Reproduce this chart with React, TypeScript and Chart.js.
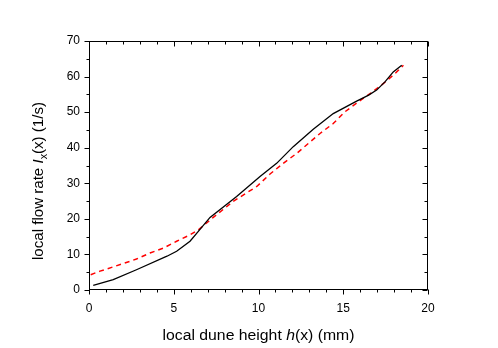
import React, { useEffect, useRef } from 'react';
import { Chart, registerables } from 'chart.js';

Chart.register(...registerables);

// Measured local flow rate (black solid)
const measuredH = [0.25, 1.43, 2.8, 4.6, 5.17, 5.96, 6.45, 7.14, 8.71, 10.09, 11.07, 12.05, 13.23, 14.41, 15.79, 16.5, 16.97, 17.46, 17.95, 18.45];
const measuredFlow = [1.3, 2.9, 5.7, 9.5, 10.9, 13.7, 16.5, 20.4, 26.3, 31.9, 35.6, 40.3, 45.2, 49.6, 53.1, 54.8, 56.2, 58.5, 61.3, 63.2];

// Model local flow rate (red dashed)
const modelH = [0.1, 0.65, 1.43, 2.0, 2.8, 3.6, 4.4, 5.17, 5.96, 6.45, 7.33, 8.5, 9.9, 10.68, 11.46, 12.25, 12.94, 13.63, 14.41, 15.1, 15.89, 16.58, 17.36, 18.05, 18.55];
const modelFlow = [4.3, 5.3, 6.5, 7.4, 8.7, 10.4, 11.8, 13.7, 15.5, 16.9, 20.4, 24.9, 29.1, 32.6, 35.6, 38.4, 41.2, 44.0, 46.8, 50.1, 52.9, 55.2, 58.0, 60.8, 63.2];

const xMin = 0, xMax = 20, xMajor = 5, xMinor = 1;
const yMin = 0, yMax = 70, yMajor = 10, yMinor = 5;

const FONT = '"Liberation Sans", Arial, Helvetica, sans-serif';

type Seg = { text: string; italic?: boolean; sub?: boolean };

const xTitle: Seg[] = [{ text: 'local dune height ' }, { text: 'h', italic: true }, { text: '(x) (mm)' }];
const yTitle: Seg[] = [{ text: 'local flow rate ' }, { text: 'I', italic: true }, { text: 'x', sub: true }, { text: '(x) (1/s)' }];

// draws segments centred on cx, with alphabetic baseline at by, stretched to targetWidth
function drawSegs(ctx: CanvasRenderingContext2D, segs: Seg[], cx: number, by: number, size: number, targetWidth: number) {
  const fontFor = (s: Seg) => `${s.italic ? 'italic ' : ''}${s.sub ? Math.round(size * 0.72) : size}px ${FONT}`;
  let total = 0;
  const widths = segs.map((s) => {
    ctx.font = fontFor(s);
    const w = ctx.measureText(s.text).width;
    total += w;
    return w;
  });
  const sx = targetWidth / total;
  ctx.save();
  ctx.translate(cx, by);
  ctx.scale(sx, 1);
  let x = -total / 2;
  ctx.textBaseline = 'alphabetic';
  ctx.textAlign = 'left';
  segs.forEach((s, i) => {
    ctx.font = fontFor(s);
    ctx.fillText(s.text, x, s.sub ? size * 0.3 : 0);
    x += widths[i];
  });
  ctx.restore();
}

export default function App() {
  const ref = useRef<HTMLCanvasElement>(null);

  useEffect(() => {
    const canvas = ref.current;
    if (!canvas) return;

    const framePlugin = {
      id: 'frame',
      afterDraw(chart: any) {
        const { ctx, chartArea: a, scales } = chart;
        const xs = scales.x;
        const ys = scales.y;
        ctx.save();
        ctx.strokeStyle = '#000';
        ctx.lineWidth = 1;
        const L = Math.round(a.left) + 0.5;
        const R = Math.round(a.right) - 0.5;
        const T = Math.round(a.top) + 0.5;
        const B = Math.round(a.bottom) - 0.5;
        ctx.strokeRect(L, T, R - L, B - T);
        ctx.beginPath();
        for (let v = xMin; v <= xMax + 1e-9; v += xMinor) {
          const major = Math.abs(v % xMajor) < 1e-9;
          const len = major ? 5 : 3;
          const px = Math.round(xs.getPixelForValue(v)) + 0.5;
          ctx.moveTo(px, B);
          ctx.lineTo(px, B + len);
          ctx.moveTo(px, T);
          ctx.lineTo(px, T + len);
        }
        for (let v = yMin; v <= yMax + 1e-9; v += yMinor) {
          const major = Math.abs(v % yMajor) < 1e-9;
          const len = major ? 5 : 3;
          const py = Math.round(ys.getPixelForValue(v)) + 0.5;
          ctx.moveTo(L, py);
          ctx.lineTo(L - len, py);
          ctx.moveTo(R, py);
          ctx.lineTo(R - len, py);
        }
        ctx.stroke();

        ctx.fillStyle = '#000';
        drawSegs(ctx, xTitle, (a.left + a.right) / 2, 340, 14, 192);
        ctx.save();
        ctx.translate(43, 181);
        ctx.rotate(-Math.PI / 2);
        drawSegs(ctx, yTitle, 0, 0, 14, 158);
        ctx.restore();
        ctx.restore();
      },
    };

    const chart = new Chart(canvas, {
      type: 'line',
      data: {
        datasets: [
          {
            label: 'measured',
            data: measuredH.map((h, i) => ({ x: h, y: measuredFlow[i] })),
            borderColor: '#000000',
            borderWidth: 1.3,
            pointRadius: 0,
            fill: false,
            tension: 0,
          },
          {
            label: 'model',
            data: modelH.map((h, i) => ({ x: h, y: modelFlow[i] })),
            borderColor: '#ff0000',
            borderWidth: 1.5,
            borderDash: [5, 4],
            pointRadius: 0,
            fill: false,
            tension: 0,
          },
        ],
      },
      options: {
        responsive: false,
        animation: false,
        devicePixelRatio: 1,
        layout: { padding: { left: 0, right: 70, top: 41, bottom: 0 } },
        plugins: { legend: { display: false }, tooltip: { enabled: false } },
        scales: {
          x: {
            type: 'linear',
            min: xMin,
            max: xMax,
            grid: { display: false, drawTicks: false },
            border: { display: false },
            ticks: { stepSize: xMajor, color: '#000', padding: 11, font: { family: FONT, size: 12 }, maxRotation: 0 },
            afterFit: (s: any) => { s.height = 58; },
          },
          y: {
            type: 'linear',
            min: yMin,
            max: yMax,
            grid: { display: false, drawTicks: false },
            border: { display: false },
            ticks: { stepSize: yMajor, color: '#000', padding: 9, font: { family: FONT, size: 12 } },
            afterFit: (s: any) => { s.width = 89; },
          },
        },
      },
      plugins: [framePlugin],
    });

    return () => chart.destroy();
  }, []);

  return (
    <div style={{ position: 'absolute', left: 0, top: 0, width: 498, height: 348, background: '#fff' }}>
      <canvas ref={ref} width={498} height={348} />
    </div>
  );
}
